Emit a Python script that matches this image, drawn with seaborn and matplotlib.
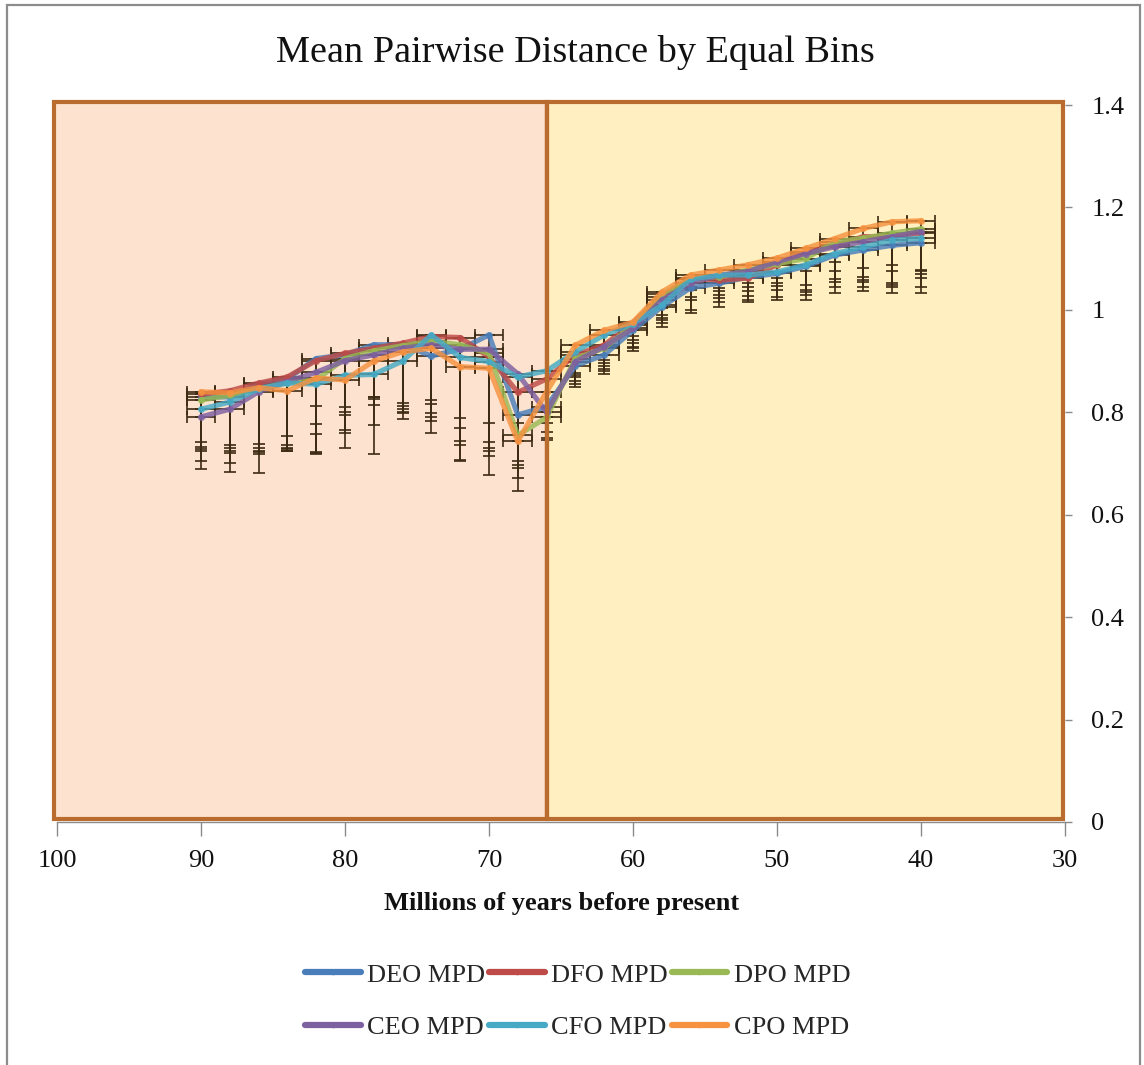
import numpy as np
import pandas as pd
import matplotlib
matplotlib.use("Agg")
import matplotlib.pyplot as plt
from matplotlib.patches import Rectangle
from matplotlib.lines import Line2D
from matplotlib.ticker import FixedLocator, FixedFormatter
import seaborn as sns

# Bin midpoints (millions of years before present)
years = [90, 88, 86, 84, 82, 80, 78, 76, 74, 72, 70, 68, 66,
         64, 62, 60, 58, 56, 54, 52, 50, 48, 46, 44, 42, 40]

# Mean pairwise distance per series
deo = [0.830, 0.830, 0.855, 0.865, 0.905, 0.912, 0.932, 0.932, 0.910, 0.923, 0.951, 0.795, 0.811,
       0.891, 0.912, 0.960, 1.006, 1.043, 1.052, 1.064, 1.071, 1.085, 1.107, 1.117, 1.126, 1.131]
dfo = [0.835, 0.842, 0.857, 0.869, 0.901, 0.915, 0.925, 0.935, 0.948, 0.946, 0.908, 0.839, 0.865,
       0.912, 0.931, 0.975, 1.026, 1.062, 1.058, 1.062, 1.088, 1.113, 1.126, 1.143, 1.143, 1.150]
dpo = [0.824, 0.833, 0.845, 0.858, 0.863, 0.905, 0.920, 0.930, 0.939, 0.932, 0.915, 0.755, 0.790,
       0.905, 0.925, 0.970, 1.030, 1.060, 1.065, 1.078, 1.090, 1.100, 1.133, 1.140, 1.150, 1.158]
ceo = [0.791, 0.806, 0.840, 0.860, 0.878, 0.901, 0.912, 0.925, 0.932, 0.923, 0.923, 0.875, 0.800,
       0.899, 0.928, 0.964, 1.019, 1.052, 1.068, 1.075, 1.094, 1.110, 1.123, 1.133, 1.143, 1.153]
cfo = [0.806, 0.820, 0.845, 0.857, 0.855, 0.872, 0.874, 0.900, 0.951, 0.907, 0.899, 0.869, 0.881,
       0.918, 0.951, 0.973, 1.009, 1.060, 1.068, 1.068, 1.074, 1.088, 1.110, 1.123, 1.136, 1.140]
cpo = [0.840, 0.838, 0.848, 0.842, 0.867, 0.863, 0.900, 0.918, 0.925, 0.889, 0.886, 0.743, 0.840,
       0.931, 0.960, 0.976, 1.035, 1.068, 1.078, 1.088, 1.101, 1.120, 1.139, 1.159, 1.172, 1.174]

# Lower bounds of the error bars
deo_lo = [0.733, 0.730, 0.730, 0.736, 0.778, 0.801, 0.829, 0.812, 0.816, 0.769, 0.741, 0.691, 0.762,
          0.872, 0.896, 0.941, 0.990, 1.039, 1.036, 1.045, 1.052, 1.048, 1.075, 1.065, 1.075, 1.075]
dfo_lo = [0.741, 0.736, 0.738, 0.754, 0.812, 0.811, 0.830, 0.818, 0.823, 0.788, 0.780, 0.705, 0.790,
          0.877, 0.902, 0.948, 1.003, 1.045, 1.042, 1.052, 1.062, 1.075, 1.094, 1.081, 1.088, 1.078]
dpo_lo = [0.725, 0.720, 0.722, 0.728, 0.723, 0.765, 0.814, 0.801, 0.791, 0.736, 0.725, 0.671, 0.745,
          0.862, 0.885, 0.928, 0.980, 1.019, 1.023, 1.028, 1.039, 1.034, 1.055, 1.055, 1.048, 1.062]
ceo_lo = [0.704, 0.700, 0.718, 0.725, 0.720, 0.759, 0.775, 0.798, 0.782, 0.707, 0.715, 0.697, 0.750,
          0.855, 0.880, 0.925, 0.975, 1.000, 1.016, 1.020, 1.026, 1.029, 1.045, 1.045, 1.045, 1.045]
cfo_lo = [0.728, 0.725, 0.725, 0.731, 0.757, 0.795, 0.825, 0.806, 0.799, 0.743, 0.730, 0.780, 0.800,
          0.868, 0.890, 0.935, 0.985, 1.026, 1.029, 1.036, 1.047, 1.039, 1.060, 1.058, 1.052, 1.070]
cpo_lo = [0.689, 0.684, 0.681, 0.724, 0.718, 0.731, 0.719, 0.786, 0.760, 0.705, 0.678, 0.646, 0.780,
          0.850, 0.875, 0.920, 0.967, 0.993, 1.006, 1.016, 1.019, 1.019, 1.032, 1.036, 1.032, 1.032]

labels = ["DEO MPD", "DFO MPD", "DPO MPD", "CEO MPD", "CFO MPD", "CPO MPD"]
values = [deo, dfo, dpo, ceo, cfo, cpo]
lows = [deo_lo, dfo_lo, dpo_lo, ceo_lo, cfo_lo, cpo_lo]
colors = ["#4A7EBB", "#BE4B48", "#98B954", "#7D60A0", "#46AAC5", "#F69240"]

x_ticks = [100, 90, 80, 70, 60, 50, 40, 30]
y_ticks = [0, 0.2, 0.4, 0.6, 0.8, 1.0, 1.2, 1.4]
y_tick_labels = ["0", "0.2", "0.4", "0.6", "0.8", "1", "1.2", "1.4"]
boundary = 66

sns.set_theme(style="white")
plt.rcParams["font.family"] = ["Liberation Serif", "DejaVu Serif"]

df = pd.concat(
    [pd.DataFrame({"year": years, "mpd": v, "series": lab}) for v, lab in zip(values, labels)],
    ignore_index=True,
)

fig = plt.figure(figsize=(11.44, 10.65), dpi=100)
ax = fig.add_axes([0.0498, 0.2282, 0.8811, 0.6732])
ax.set_facecolor("white")

# Cretaceous / Paleogene panels
edge = "#B96C2E"
ax.add_patch(Rectangle((100.2, 0.006), boundary - 100.2, 1.4, facecolor="#FDE2CF",
                       edgecolor=edge, linewidth=3.0, zorder=0, clip_on=False))
ax.add_patch(Rectangle((boundary, 0.006), 30.15 - boundary, 1.4, facecolor="#FFEFC1",
                       edgecolor=edge, linewidth=3.0, zorder=0, clip_on=False))
ax.plot([boundary, boundary], [0.006, 1.406], color=edge, linewidth=3.0, zorder=4,
        solid_capstyle="butt")

# Error bars
for v, lo in zip(values, lows):
    v = np.asarray(v)
    lo = np.asarray(lo)
    ax.errorbar(years, v, yerr=[v - lo, np.zeros_like(v)], xerr=1.0, fmt="none",
                ecolor="#3D2A12", elinewidth=1.2, capsize=4.5, capthick=1.2, zorder=2)

sns.lineplot(data=df, x="year", y="mpd", hue="series", hue_order=labels,
             palette=colors, linewidth=3.7, marker="o", markersize=5,
             markeredgewidth=0, alpha=0.82, legend=False, ax=ax, zorder=3)

ax.set_xlim(100, 30)
ax.set_ylim(0, 1.4)
ax.xaxis.set_major_locator(FixedLocator(x_ticks))
ax.set_xticklabels([str(t) for t in x_ticks])
ax.yaxis.tick_right()
ax.yaxis.set_major_locator(FixedLocator(y_ticks))
ax.yaxis.set_major_formatter(FixedFormatter(y_tick_labels))
ax.set_xlabel("")
ax.set_ylabel("")

for side in ["left", "top", "right"]:
    ax.spines[side].set_visible(False)
ax.spines["bottom"].set_color("#8A8A8A")
ax.spines["bottom"].set_linewidth(1.0)

ax.tick_params(axis="x", direction="out", length=10, width=1, color="#8A8A8A",
               labelsize=19, pad=10, bottom=True, labelcolor="#111111")
ax.tick_params(axis="y", direction="out", length=5, width=1, color="#8A8A8A",
               labelsize=19, pad=14, right=True, left=False, labelcolor="#111111")

fig.text(0.503, 0.951, "Mean Pairwise Distance by Equal Bins", ha="center", va="center",
         fontsize=27.5, color="#111111")
fig.text(0.491, 0.152, "Millions of years before present", ha="center", va="center",
         fontsize=19, fontweight="bold", color="#111111")

# Legend filled row by row: DEO/DFO/DPO on top, CEO/CFO/CPO below
order = [0, 3, 1, 4, 2, 5]
handles = [Line2D([0], [0], color=c, linewidth=4.5, marker="o", markersize=3,
                  solid_capstyle="round") for c in colors]
fig.legend([handles[i] for i in order], [labels[i] for i in order], loc="center",
           bbox_to_anchor=(0.505, 0.060), ncol=3, frameon=False, fontsize=19,
           handlelength=2.1, handletextpad=0.25, columnspacing=0.15, labelspacing=1.1)

# Chart frame
fig.add_artist(Rectangle((7 / 1144, -0.05), 1133 / 1144, 1.05 - 5 / 1065,
                         transform=fig.transFigure, fill=False, edgecolor="#8C8C8C",
                         linewidth=1.6, clip_on=False))

fig.savefig("out.png", dpi=100)
